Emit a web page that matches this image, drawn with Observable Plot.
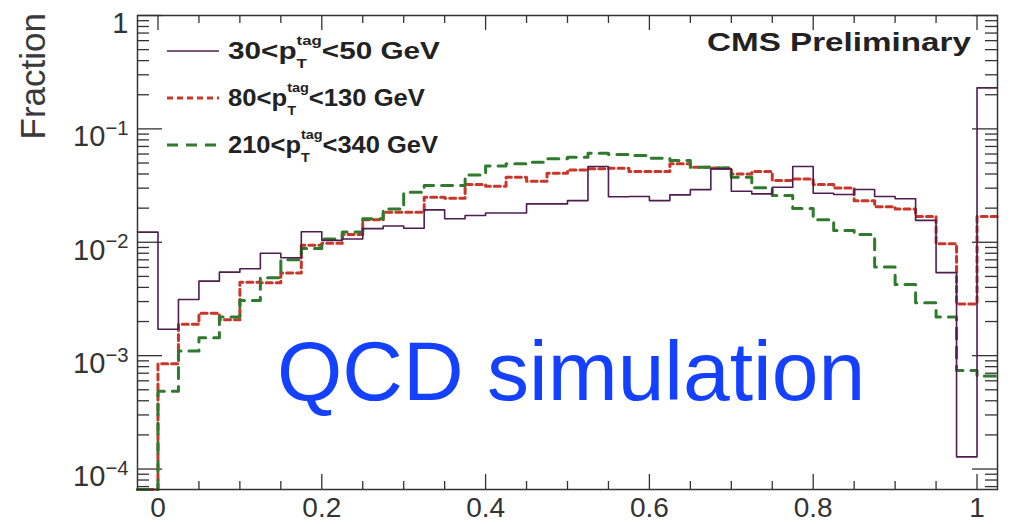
<!DOCTYPE html>
<html><head><meta charset="utf-8">
<script src="https://cdn.jsdelivr.net/npm/d3@7"></script>
<script src="https://cdn.jsdelivr.net/npm/@observablehq/plot@0.6"></script>
<style>
body{margin:0;background:#fff}
#chart{width:1012px;height:524px}
</style></head><body><div id="chart"></div>
<script>
// ---- data ----
const binStart = -0.025;
const binWidth = 0.025;
const nBins = 42;
const binLow = d3.range(nBins).map(i => binStart + binWidth * i);

const pt30_50 = [0.0123,0.00171,0.00313,0.00454,0.00545,0.00584,0.0080,0.0073,0.0124,0.0104,
  0.0107,0.0132,0.0139,0.0133,0.0193,0.0161,0.0172,0.0181,0.0181,0.0218,
  0.0218,0.0233,0.0466,0.0252,0.0253,0.0233,0.0262,0.0291,0.0444,0.0282,
  0.0267,0.0306,0.0466,0.0271,0.0264,0.0292,0.0253,0.0242,0.0156,0.0054,
  0.000128,0.23];
const pt80_130 = [0,0.00085,0.00189,0.00237,0.00207,0.00445,0.0044,0.00535,0.0094,0.0098,
  0.0117,0.0158,0.0184,0.0184,0.025,0.0245,0.0323,0.0312,0.0375,0.0345,
  0.0406,0.0434,0.0444,0.0450,0.0421,0.0421,0.0492,0.0459,0.0453,0.0401,
  0.0421,0.0350,0.0362,0.0323,0.0301,0.0232,0.0206,0.0197,0.0169,0.0097,
  0.00285,0.0169];
const pt210_340 = [0,0.000485,0.0011,0.00144,0.00219,0.00307,0.00487,0.0070,0.0088,0.0107,
  0.0123,0.0161,0.0197,0.0276,0.0316,0.0316,0.0392,0.0470,0.0492,0.0508,
  0.0544,0.0562,0.0610,0.0594,0.0582,0.0551,0.0526,0.0459,0.0453,0.0375,
  0.0302,0.0258,0.0199,0.0158,0.0127,0.0117,0.00604,0.00425,0.00293,0.00219,
  0.00074,0.00066];

const xMajorTicks = [0, 0.2, 0.4, 0.6, 0.8, 1];
const xTickLabels = ["0", "0.2", "0.4", "0.6", "0.8", "1"];
const xMinorTicks = [0.05,0.1,0.15,0.25,0.3,0.35,0.45,0.5,0.55,0.65,0.7,0.75,0.85,0.9,0.95];
const yMajorTicks = [1e-4, 1e-3, 1e-2, 1e-1, 1];
const yTickLabels = ["10^-4", "10^-3", "10^-2", "10^-1", "1"];
const yMinorTicks = [7e-5,8e-5,9e-5].concat(
  ...[1e-4,1e-3,1e-2,1e-1].map(d => [2,3,4,5,6,7,8,9].map(m => m * d)));

const seriesNames = ["30<p", "80<p", "210<p"];
const seriesTails = ["<50 GeV", "<130 GeV", "<340 GeV"];

// ---- layout ----
const W = 1012, H = 524, mL = 137, mR = 15, mT = 15, mB = 35;
const frameW = W - mL - mR, frameH = H - mT - mB;
const yFloor = 1e-6;

function steps(values) {
  const rows = values.map((v, i) => ({x: binLow[i], y: Math.max(v, yFloor)}));
  rows.push({x: binLow[nBins - 1] + binWidth, y: rows[rows.length - 1].y});
  return rows;
}

const purple = "#4f1d50", red = "#c9362a", green = "#2f7a2c";
const axisCol = "#333";

const plot = Plot.plot({
  width: W, height: H,
  marginLeft: mL, marginRight: mR, marginTop: mT, marginBottom: mB,
  style: {fontFamily: "'Liberation Sans', Arial, sans-serif", background: "white", color: "#333"},
  x: {domain: [binStart, binLow[nBins - 1] + binWidth]},
  y: {type: "log", domain: [6.6e-5, 1], clamp: true},
  marks: [
    Plot.ruleX(xMajorTicks, {insetTop: frameH - 15, stroke: axisCol, strokeWidth: 1.3}),
    Plot.ruleX(xMinorTicks, {insetTop: frameH - 8, stroke: axisCol, strokeWidth: 1.3}),
    Plot.ruleX(xMajorTicks, {insetBottom: frameH - 15, stroke: axisCol, strokeWidth: 1.3}),
    Plot.ruleX(xMinorTicks, {insetBottom: frameH - 8, stroke: axisCol, strokeWidth: 1.3}),
    Plot.ruleY(yMajorTicks, {insetRight: frameW - 25, stroke: axisCol, strokeWidth: 1.3}),
    Plot.ruleY(yMinorTicks, {insetRight: frameW - 12, stroke: axisCol, strokeWidth: 1.3}),
    Plot.ruleY(yMajorTicks, {insetLeft: frameW - 25, stroke: axisCol, strokeWidth: 1.3}),
    Plot.ruleY(yMinorTicks, {insetLeft: frameW - 12, stroke: axisCol, strokeWidth: 1.3}),
    Plot.line(steps(pt80_130), {x: "x", y: "y", curve: "step-after", stroke: red, strokeWidth: 3, strokeDasharray: "6,4"}),
    Plot.line(steps(pt210_340), {x: "x", y: "y", curve: "step-after", stroke: green, strokeWidth: 3, strokeDasharray: "11,8"}),
    Plot.line(steps(pt30_50), {x: "x", y: "y", curve: "step-after", stroke: purple, strokeWidth: 1.6}),
    Plot.frame({stroke: axisCol, strokeWidth: 1.5}),
    Plot.axisX(xMajorTicks, {tickSize: 0, tickPadding: 8, fontSize: 28, label: null,
      tickFormat: d => xTickLabels[xMajorTicks.indexOf(d)], fill: "#333"}),
    Plot.axisY(yMajorTicks, {tickSize: 0, tickPadding: 9, fontSize: 29, label: null, dy: 8,
      tickFormat: d => yTickLabels[yMajorTicks.indexOf(d)], fill: "#333"})
  ]
});
document.getElementById("chart").appendChild(plot);

const svg = d3.select(plot);

// superscripts on y labels
svg.selectAll("text").each(function () {
  const t = this.textContent;
  if (t.includes("^")) {
    const [b, e] = t.split("^");
    this.textContent = "";
    const s = d3.select(this);
    s.append("tspan").text(b);
    s.append("tspan").attr("dy", "-0.55em").attr("font-size", "0.7em").text(e.replace("-", "\u2212"));
  }
});

const ff = "'Liberation Sans', Arial, sans-serif";
const ann = svg.append("g").attr("font-family", ff).attr("text-anchor", "start");

// y title
ann.append("text").attr("transform", "translate(45,13) rotate(-90)")
  .attr("text-anchor", "end").attr("font-size", 35).attr("fill", "#3a3a3a").text("Fraction");

// stretched text helper: natural width measured, then group scaled to target width
function stretched(x, y, targetW, build, anchor) {
  const g = ann.append("g");
  const w = build(g);
  const sx = targetW / w;
  const x0 = anchor === "end" ? x - targetW : x;
  g.attr("transform", `translate(${x0},${y}) scale(${sx},1)`);
}

function simple(txt, size, weight, fill) {
  return inner => {
    const t = inner.append("text").attr("font-size", size).attr("font-weight", weight).attr("fill", fill).text(txt);
    return t.node().getComputedTextLength();
  };
}

stretched(971, 51, 264, simple("CMS Preliminary", 26, "bold", "#222"), "end");

// legend
const legendRows = [
  {cy: 51, color: purple, width: 1.6, dash: null, target: 212},
  {cy: 98, color: red, width: 3, dash: "6,4", target: 197},
  {cy: 145, color: green, width: 3, dash: "11,8", target: 210}
];
legendRows.forEach((r, i) => {
  const l = ann.append("line").attr("x1", 167).attr("x2", 219).attr("y1", r.cy).attr("y2", r.cy)
    .attr("stroke", r.color).attr("stroke-width", r.width);
  if (r.dash) l.attr("stroke-dasharray", r.dash);
  stretched(228, r.cy + 8, r.target, inner => {
    let cx = 0;
    const a = inner.append("text").attr("font-size", 23).attr("font-weight", "bold").attr("fill", "#222").text(seriesNames[i]);
    cx += a.node().getComputedTextLength();
    const sup = inner.append("text").attr("x", cx).attr("y", -14).attr("font-size", 13).attr("font-weight", "bold").attr("fill", "#222").text("tag");
    const sub = inner.append("text").attr("x", cx).attr("y", 9).attr("font-size", 13).attr("font-weight", "bold").attr("fill", "#222").text("T");
    cx += Math.max(sup.node().getComputedTextLength(), sub.node().getComputedTextLength());
    const b = inner.append("text").attr("x", cx).attr("font-size", 23).attr("font-weight", "bold").attr("fill", "#222").text(seriesTails[i]);
    cx += b.node().getComputedTextLength();
    return cx;
  }, "start");
});

// annotation
ann.append("text").attr("x", 277).attr("y", 400).attr("font-size", 84).attr("fill", "#1440ff").text("QCD simulation");
</script></body></html>
